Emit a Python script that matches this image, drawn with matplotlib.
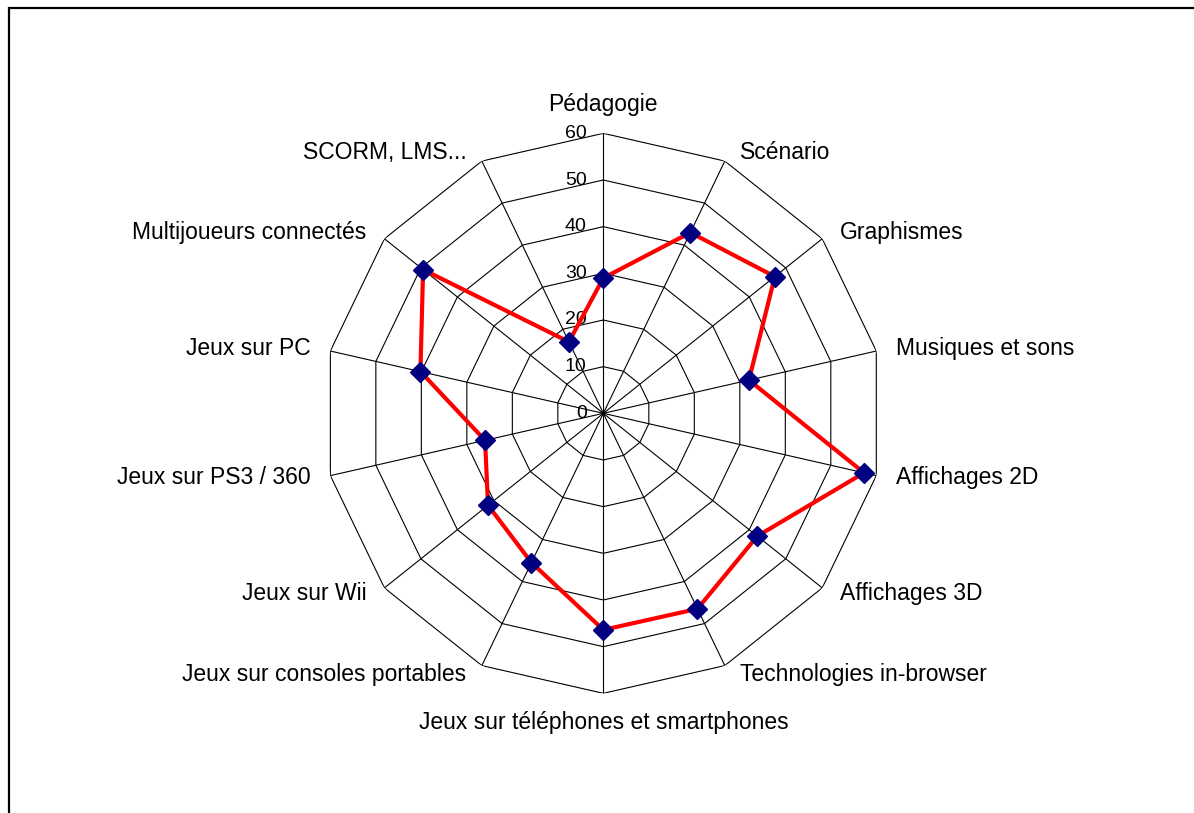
import numpy as np
import matplotlib
matplotlib.use("Agg")
import matplotlib.pyplot as plt
from matplotlib.patches import Rectangle

plt.rcParams['font.family'] = ['Liberation Sans', 'DejaVu Sans']

categories = [
    "Pédagogie", "Scénario", "Graphismes", "Musiques et sons",
    "Affichages 2D", "Affichages 3D", "Technologies in-browser",
    "Jeux sur téléphones et smartphones", "Jeux sur consoles portables",
    "Jeux sur Wii", "Jeux sur PS3 / 360", "Jeux sur PC",
    "Multijoueurs connectés", "SCORM, LMS...",
]
values = [29, 43, 47, 32, 57.3, 42.2, 46.5, 46.4, 35.5, 31.6, 26, 40.2, 49.4, 17]
levels = [0, 10, 20, 30, 40, 50, 60]

n = len(categories)
theta = np.arange(n) * 2 * np.pi / n
theta_closed = np.append(theta, theta[0])

fig = plt.figure(figsize=(11.94, 8.13), dpi=100)
ax = fig.add_axes([0.2708, 0.1472, 0.469, 0.6888], projection='polar')
ax.set_theta_zero_location('N')
ax.set_theta_direction(-1)
ax.set_ylim(0, 60)
ax.grid(False)
ax.set_xticks([])
ax.set_yticks([])
ax.spines['polar'].set_visible(False)
ax.patch.set_visible(False)

# polygon rings and spokes
for lv in levels[1:]:
    ax.plot(theta_closed, [lv] * (n + 1), color='black', lw=0.8, zorder=1)
for t in theta:
    ax.plot([t, t], [0, 60], color='black', lw=0.8, zorder=1)

# radial tick labels
for lv in levels:
    ax.annotate(str(lv), xy=(0, lv), xytext=(-12, 0), textcoords='offset points',
                ha='right', va='center', fontsize=14, zorder=2)

# category labels
for t, lab in zip(theta, categories):
    s, c = np.sin(t), np.cos(t)
    if abs(s) < 1e-6:
        dx, dy, ha = 0, 21 * c, 'center'
    else:
        dx = (9 + 5 * abs(s)) * np.sign(s)
        dy = 7 * c
        ha = 'left' if s > 0 else 'right'
    ax.annotate(lab, xy=(t, 60), xytext=(dx, dy), textcoords='offset points',
                ha=ha, va='center', fontsize=16.5, annotation_clip=False)

# data series
ax.plot(theta_closed, values + values[:1], color='#ff0000', lw=3, zorder=3)
ax.plot(theta, values, linestyle='none', marker='D', markersize=10.5,
        markerfacecolor='#000080', markeredgecolor='#000080', zorder=4)

# chart frame
fig.patches.append(Rectangle((8.5 / 1194, -0.1), 1.2, 1.1 - 8.5 / 813,
                             transform=fig.transFigure, fill=False,
                             edgecolor='black', lw=1.6))

fig.savefig('out.png', dpi=100)
